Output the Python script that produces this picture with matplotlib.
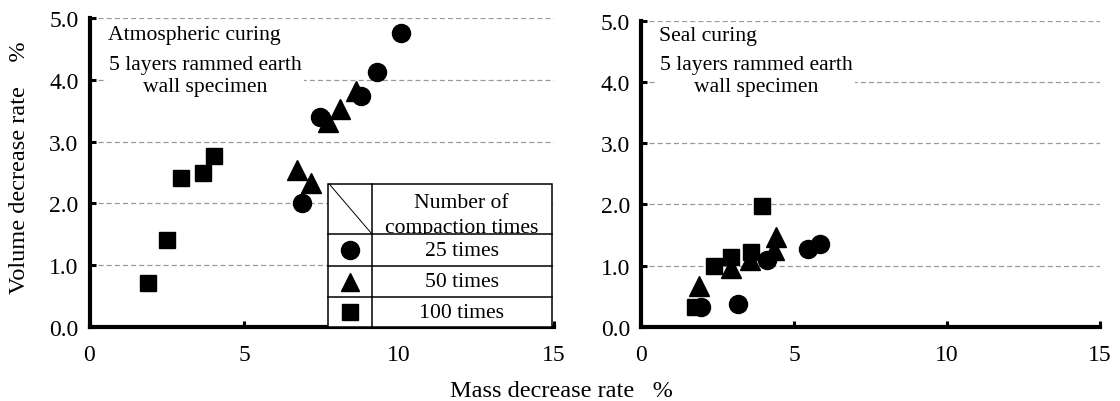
import matplotlib
matplotlib.use("Agg")
import matplotlib.pyplot as plt
from matplotlib.patches import Rectangle
from matplotlib.lines import Line2D

plt.rcParams['font.family'] = ['Liberation Serif', 'DejaVu Serif']
FS = 15.6      # annotation / legend text
FS_TICK = 17
FS_LAB = 17.5

# ---- data: Atmospheric curing ----
atm_25_x = [10.07, 9.30, 8.76, 7.44, 6.85]
atm_25_y = [4.75, 4.12, 3.74, 3.39, 2.01]
atm_50_x = [8.62, 8.08, 7.69, 6.69, 7.15]
atm_50_y = [3.82, 3.53, 3.32, 2.54, 2.33]
atm_100_x = [4.02, 3.65, 2.97, 2.49, 1.88]
atm_100_y = [2.76, 2.49, 2.41, 1.41, 0.72]

# ---- data: Seal curing ----
seal_25_x = [1.95, 3.16, 4.12, 5.47, 5.86]
seal_25_y = [0.32, 0.375, 1.10, 1.27, 1.35]
seal_50_x = [1.91, 2.94, 3.56, 4.35, 4.40]
seal_50_y = [0.67, 0.96, 1.10, 1.25, 1.47]
seal_100_x = [1.77, 2.39, 2.94, 3.58, 3.97]
seal_100_y = [0.32, 0.99, 1.14, 1.23, 1.98]

x_ticks = [0, 5, 10, 15]
y_ticks = [0.0, 1.0, 2.0, 3.0, 4.0, 5.0]
legend_labels = ["25 times", "50 times", "100 times"]
legend_header = "Number of\ncompaction times"

W, H = 1120, 402
fig = plt.figure(figsize=(W / 100, H / 100), dpi=100)

def px_axes(l, r, t, b):
    return [l / W, (H - b) / H, (r - l) / W, (b - t) / H]

ax1 = fig.add_axes(px_axes(89.5, 554, 19, 328))
ax2 = fig.add_axes(px_axes(641, 1100, 21.5, 328))

MS_O, MS_T, MS_S = 13, 14, 12.2

for ax in (ax1, ax2):
    ax.set_xlim(0, 15)
    ax.set_ylim(0, 5)
    ax.set_xticks(x_ticks)
    ax.set_yticks(y_ticks)
    ax.set_yticklabels([f"{v:.1f}" for v in y_ticks])
    ax.spines['top'].set_visible(False)
    ax.spines['right'].set_visible(False)
    ax.spines['left'].set_linewidth(3)
    ax.spines['bottom'].set_linewidth(3)
    ax.tick_params(axis='both', direction='in', length=4, width=2.2, labelsize=FS_TICK)
    ax.tick_params(axis='y', pad=8)
    ax.tick_params(axis='x', pad=12.5)
    ax.yaxis.grid(True, linestyle=(0, (4, 2.5)), color='#9a9a9a', linewidth=0.9)
    ax.set_axisbelow(True)

def draw(ax, d100, d25, d50):
    ax.plot(d100[0], d100[1], 's', color='black', ms=MS_S, ls='none', zorder=3)
    ax.plot(d25[0], d25[1], 'o', color='black', ms=MS_O, ls='none', zorder=3)
    ax.plot(d50[0], d50[1], '^', color='black', ms=MS_T, ls='none', zorder=3)

draw(ax1, (atm_100_x, atm_100_y), (atm_25_x, atm_25_y), (atm_50_x, atm_50_y))
draw(ax2, (seal_100_x, seal_100_y), (seal_25_x, seal_25_y), (seal_50_x, seal_50_y))

bb = dict(facecolor='white', edgecolor='none', pad=1.5)
ax1.text(0.040, 0.948, "Atmospheric curing", transform=ax1.transAxes, fontsize=FS,
         ha='left', va='center', bbox=bb, zorder=4)
ax1.text(0.249, 0.814, "5 layers rammed earth\nwall specimen", transform=ax1.transAxes,
         fontsize=FS, ha='center', va='center', multialignment='center',
         linespacing=1.2, bbox=bb, zorder=4)
ax2.text(0.039, 0.950, "Seal curing", transform=ax2.transAxes, fontsize=FS,
         ha='left', va='center', bbox=bb, zorder=4)
ax2.text(0.2505, 0.820, "5 layers rammed earth\nwall specimen", transform=ax2.transAxes,
         fontsize=FS, ha='center', va='center', multialignment='center',
         linespacing=1.2, bbox=bb, zorder=4)

# ---- legend table ----
x0, xd, x1 = 0.513, 0.608, 0.995
ys = [0.463, 0.301, 0.197, 0.097, 0.0]
T = ax1.transAxes
ax1.add_patch(Rectangle((x0, 0), x1 - x0, ys[0], transform=T, facecolor='white',
                        edgecolor='black', lw=1.1, zorder=5, clip_on=False))
for y in ys[1:4]:
    ax1.add_line(Line2D([x0, x1], [y, y], transform=T, color='black', lw=1.1, zorder=6, clip_on=False))
ax1.add_line(Line2D([xd, xd], [0, ys[0]], transform=T, color='black', lw=1.1, zorder=6, clip_on=False))
ax1.add_line(Line2D([x0 + 0.003, xd], [ys[0], ys[1]], transform=T, color='black', lw=0.7, zorder=6, clip_on=False))
hdr_clip = Rectangle((xd, ys[1]), x1 - xd, ys[0] - ys[1], transform=T, facecolor='none', edgecolor='none')
ax1.add_patch(hdr_clip)
ht = ax1.text((xd + x1) / 2, 0.362, legend_header, transform=T, fontsize=FS, ha='center',
              va='center', multialignment='center', linespacing=1.45, zorder=6, clip_on=True)
ht.set_clip_path(hdr_clip)
mk = ['o', '^', 's']
mss = [MS_O, MS_T * 0.95, MS_S]
for i, lab in enumerate(legend_labels):
    yc = (ys[i + 1] + ys[i + 2]) / 2
    ax1.plot([(x0 + xd) / 2], [yc], mk[i], color='black', ms=mss[i], transform=T,
             clip_on=False, zorder=7)
    ax1.text((xd + x1) / 2, yc, lab, transform=T, fontsize=FS, ha='center', va='center', zorder=7)

fig.text(20 / W, 1 - 168 / H, "Volume decrease rate    %", rotation=90, fontsize=FS_LAB,
         ha='center', va='center')
fig.text(561.5 / W, 1 - 392 / H, "Mass decrease rate   %", fontsize=FS_LAB, ha='center', va='center')

fig.savefig("out.png", dpi=100)
